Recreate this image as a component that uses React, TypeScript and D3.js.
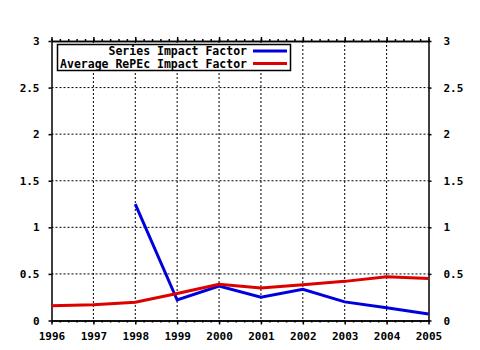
import React, { useEffect, useRef } from "react";
import * as d3 from "d3";

// chart data
const years = [1996, 1997, 1998, 1999, 2000, 2001, 2002, 2003, 2004, 2005];
const seriesImpact = [null, null, 1.25, 0.22, 0.37, 0.25, 0.335, 0.2, 0.137, 0.07];
const averageImpact = [0.158, 0.17, 0.197, 0.29, 0.39, 0.35, 0.385, 0.42, 0.47, 0.45];
const yTicks = [0, 0.5, 1, 1.5, 2, 2.5, 3];
const legendLabels = ["Series Impact Factor", "Average RePEc Impact Factor"];
const seriesColors = ["#0000dd", "#dd0000"];

const W = 480;
const H = 350;
const left = 51.5;
const right = 428.5;
const top = 41;
const bottom = 320.5;
const font = "'DejaVu Sans Mono', monospace";

export default function App() {
  const ref = useRef<SVGSVGElement>(null);

  useEffect(() => {
    const svg = d3.select(ref.current);
    svg.selectAll("*").remove();

    const x = d3.scaleLinear().domain([years[0], years[years.length - 1]]).range([left, right]);
    const y = d3.scaleLinear().domain([0, 3]).range([bottom, top]);

    svg.append("rect").attr("width", W).attr("height", H).attr("fill", "#fff");

    // dotted grid
    const grid = svg.append("g").attr("stroke", "#000").attr("stroke-dasharray", "2,2").attr("stroke-width", 1);
    years.slice(1, -1).forEach((yr) => {
      grid.append("line").attr("x1", x(yr)).attr("x2", x(yr)).attr("y1", top).attr("y2", bottom);
    });
    yTicks.slice(1, -1).forEach((v) => {
      grid.append("line").attr("x1", left).attr("x2", right).attr("y1", y(v)).attr("y2", y(v));
    });

    // minor x ticks, every fifth of a year
    const minor = d3.range(years[0], years[years.length - 1] + 0.001, 0.2);

    const styleAxis = (g: any) => {
      g.select(".domain").attr("stroke", "#000").attr("stroke-width", 1.5);
      g.selectAll(".tick line").attr("stroke", "#000").attr("stroke-width", 1.5);
      g.selectAll("text")
        .attr("font-family", font)
        .attr("font-weight", "bold")
        .attr("font-size", 11)
        .attr("fill", "#000");
    };

    svg.append("g").attr("transform", `translate(0,${bottom})`)
      .call(d3.axisBottom(x).tickValues(minor).tickSize(2).tickFormat(() => "").tickSizeOuter(0))
      .call(styleAxis);
    svg.append("g").attr("transform", `translate(0,${bottom})`)
      .call(d3.axisBottom(x).tickValues(years).tickSize(4).tickPadding(8).tickFormat(d3.format("d")).tickSizeOuter(0))
      .call(styleAxis);
    svg.append("g").attr("transform", `translate(0,${top})`)
      .call(d3.axisTop(x).tickValues(minor).tickSize(2).tickFormat(() => "").tickSizeOuter(0))
      .call(styleAxis);
    svg.append("g").attr("transform", `translate(0,${top})`)
      .call(d3.axisTop(x).tickValues(years).tickSize(4).tickFormat(() => "").tickSizeOuter(0))
      .call(styleAxis);
    svg.append("g").attr("transform", `translate(${left},0)`)
      .call(d3.axisLeft(y).tickValues(yTicks).tickSize(3).tickPadding(9).tickFormat(d3.format("")).tickSizeOuter(0))
      .call(styleAxis);
    svg.append("g").attr("transform", `translate(${right},0)`)
      .call(d3.axisRight(y).tickValues(yTicks).tickSize(3).tickPadding(12).tickFormat(d3.format("")).tickSizeOuter(0))
      .call(styleAxis);

    // data lines
    const line = d3.line<number | null>()
      .defined((d) => d !== null)
      .x((_, i) => x(years[i]))
      .y((d) => y(d as number));

    [seriesImpact, averageImpact].forEach((vals, i) => {
      svg.append("path")
        .attr("d", line(vals))
        .attr("fill", "none")
        .attr("stroke", seriesColors[i])
        .attr("stroke-width", 3);
    });

    // legend
    const lg = svg.append("g");
    lg.append("rect").attr("x", 57.5).attr("y", 44.5).attr("width", 233).attr("height", 26)
      .attr("fill", "#fff").attr("stroke", "#000").attr("stroke-width", 1.5);
    legendLabels.forEach((label, i) => {
      const ly = 51 + i * 12.5;
      lg.append("text").attr("x", 247).attr("y", ly + 4)
        .attr("text-anchor", "end")
        .attr("font-family", font).attr("font-weight", "bold").attr("font-size", 11.5)
        .text(label);
      lg.append("line").attr("x1", 253).attr("x2", 287).attr("y1", ly).attr("y2", ly)
        .attr("stroke", seriesColors[i]).attr("stroke-width", 3);
    });
  }, []);

  return (
    <svg
      ref={ref}
      width={W}
      height={H}
      style={{ position: "absolute", left: 0, top: 0 }}
    />
  );
}
